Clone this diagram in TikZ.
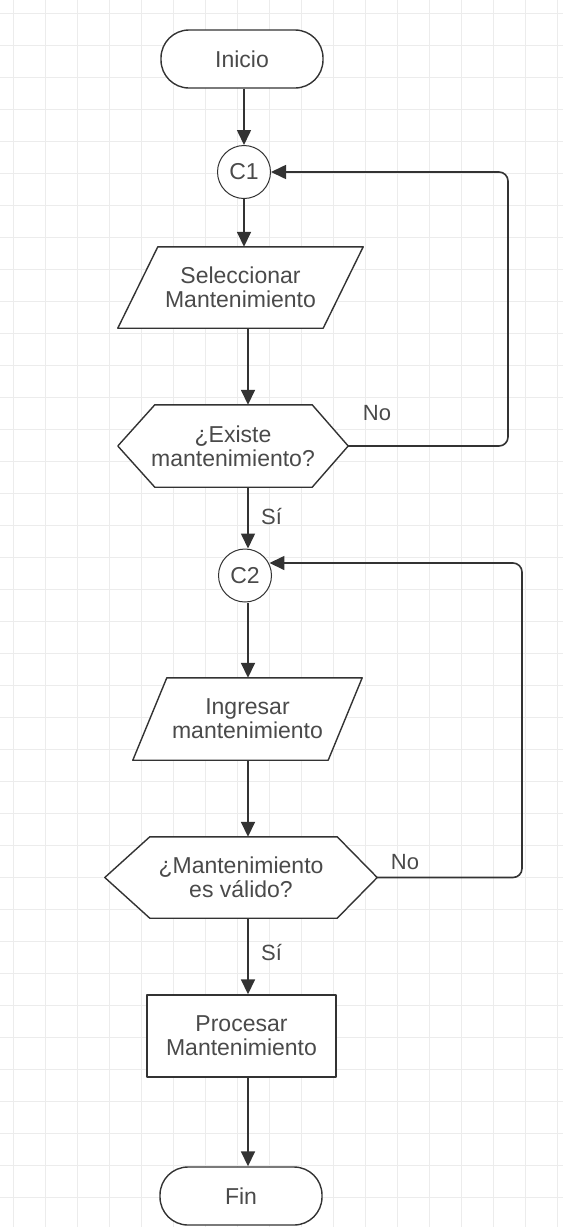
\documentclass[tikz,border=0pt]{standalone}
\usepackage{fontspec}
\setmainfont{Liberation Sans}
\usetikzlibrary{arrows.meta,calc}

\definecolor{ink}{HTML}{333333}
\definecolor{txt}{HTML}{4A4A4A}
\definecolor{gridc}{HTML}{ECECEC}

\pgfdeclarelayer{grid}
\pgfdeclarelayer{background}
\pgfsetlayers{grid,background,main}

\begin{document}
\begin{tikzpicture}[x=1pt,y=-1pt,
  every node/.style={font=\fontsize{23}{24}\selectfont, text=txt, align=center, inner sep=0pt},
  outline/.style={draw=ink, line width=1.4pt, fill=white, line join=round},
  terminal/.style={outline, rounded corners=28pt, minimum width=162pt, minimum height=58pt},
  connector/.style={outline, line width=1pt, circle, minimum size=53pt},
  process/.style={outline, rectangle, minimum width=189pt, minimum height=82pt},
  frame/.style={rectangle, draw=none},
  flow/.style={draw=ink, line width=1.6pt, -{Triangle[length=15pt,width=14pt]}},
  loop/.style={flow, rounded corners=9pt},
  lbl/.style={font=\fontsize{22}{24}\selectfont}
]
\useasboundingbox (0,0) rectangle (563,1227);

% background grid
\begin{pgfonlayer}{grid}
  \fill[white] (0,0) rectangle (563,1227);
  \foreach \i in {0,...,17} \draw[gridc, line width=1pt] (13+32*\i,0) -- ++(0,1227);
  \foreach \j in {0,...,38} \draw[gridc, line width=1pt] (0,13+32*\j) -- ++(563,0);
\end{pgfonlayer}

% nodes
\node[terminal] (inicio) at (242,59) {Inicio};
\node[connector] (c1) at (244,172) {C1};
\node[frame, minimum width=245pt, minimum height=81pt] (p1) at (240.5,287.5) {Seleccionar\\Mantenimiento};
\node[frame, minimum width=230pt, minimum height=82pt] (d1) at (233,446) {¿Existe\\mantenimiento?};
\node[connector] (c2) at (245,575.5) {C2};
\node[frame, minimum width=229pt, minimum height=82pt] (p2) at (247.5,719) {Ingresar\\mantenimiento};
\node[frame, minimum width=272pt, minimum height=81pt] (d2) at (241,877.5) {¿Mantenimiento\\es válido?};
\node[process] (proc) at (241.5,1036) {Procesar\\Mantenimiento};
\node[terminal] (fin) at (241,1196) {Fin};

% shape outlines behind the texts
\begin{pgfonlayer}{background}
  \draw[outline] (p1.south west) -- ($(p1.north west)+(40,0)$) -- (p1.north east)
                 -- ($(p1.south east)+(-40,0)$) -- cycle;
  \draw[outline] (p2.south west) -- ($(p2.north west)+(34,0)$) -- (p2.north east)
                 -- ($(p2.south east)+(-34,0)$) -- cycle;
  \draw[outline] (d1.west) -- ($(d1.north west)+(37,0)$) -- ($(d1.north east)+(-36,0)$)
                 -- (d1.east) -- ($(d1.south east)+(-36,0)$) -- ($(d1.south west)+(37,0)$) -- cycle;
  \draw[outline] (d2.west) -- ($(d2.north west)+(45,0)$) -- ($(d2.north east)+(-40,0)$)
                 -- (d2.east) -- ($(d2.south east)+(-40,0)$) -- ($(d2.south west)+(45,0)$) -- cycle;
\end{pgfonlayer}

% branch labels
\node[lbl] (no1) at (377,413) {No};
\node[lbl, anchor=west] (si1) at (261,516) {Sí};
\node[lbl] (no2) at (405,862) {No};
\node[lbl, anchor=west] (si2) at (261,952) {Sí};

% flow axes and loop corners
\coordinate (ax1) at (244,0);
\coordinate (ax2) at (248,0);
\coordinate (k1) at (508,172);
\coordinate (k2) at (522,563);

% connectors
\draw[flow] (inicio.south -| ax1) -- (c1.north);
\draw[flow] (c1.south) -- (p1.north -| ax1);
\draw[flow] (p1.south -| ax2) -- (d1.north -| ax2);
\draw[flow] (d1.south -| ax2) -- (c2.north -| ax2);
\draw[flow] (c2.south -| ax2) -- (p2.north -| ax2);
\draw[flow] (p2.south -| ax2) -- (d2.north -| ax2);
\draw[flow] (d2.south -| ax2) -- (proc.north -| ax2);
\draw[flow] (proc.south -| ax2) -- (fin.north -| ax2);

\draw[loop] (d1.east) -| (k1) -- (c1.east);
\draw[loop] (d2.east) -| (k2) -- (c2.25 |- k2);
\end{tikzpicture}
\end{document}
